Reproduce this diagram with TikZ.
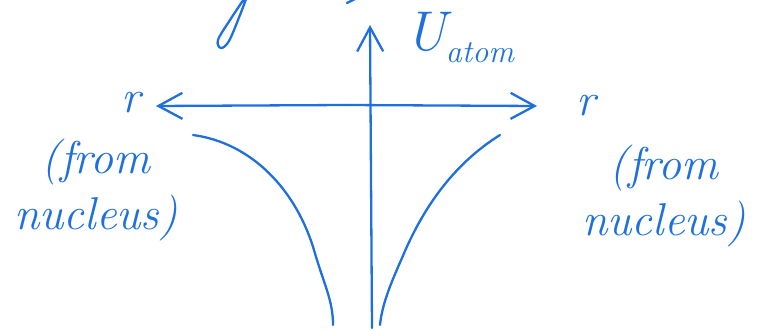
\documentclass[tikz,border=0pt]{standalone}
\usepackage{fontspec}
\setmainfont{Latin Modern Roman}
\usetikzlibrary{arrows.meta}
\definecolor{ink}{RGB}{30,112,222}
\tikzset{
  pen/.style={draw=ink, line width=2.3pt, line cap=round, line join=round},
  axisarrow/.style={pen, -{Straight Barb[length=24pt,width=26pt,line width=2.3pt]}},
  lbl/.style={text=ink, font=\fontsize{46}{56}\selectfont\itshape, align=center, inner sep=0pt},
  rlbl/.style={text=ink, font=\fontsize{46}{46}\selectfont\itshape, inner sep=0pt}
}
\begin{document}
\begin{tikzpicture}[x=1pt,y=-1pt]
\useasboundingbox (0,0) rectangle (762,331);
% axes
\coordinate (vb) at (372,328);
\coordinate (vt) at (370,25);
\coordinate (hc) at (346,105);
\coordinate (hl) at (156,106);
\coordinate (hr) at (537,106);
\draw[axisarrow] (vb) -- (vt);
\draw[axisarrow] (hc) -- (hl);
\draw[axisarrow] (hc) -- (hr);
% labels
\node[lbl, anchor=west] (U) at (405,38) {\fontsize{56}{56}\selectfont U\raisebox{-12pt}{\fontsize{32}{32}\selectfont atom}};
\node[rlbl] (rl) at (131,103) {r};
\node[rlbl] (rr) at (586,106) {r};
\node[lbl] (nl) at (96,190) {(from\\ nucleus)};
\node[lbl] (nr) at (664,196) {(from\\ nucleus)};
% potential curves
\draw[pen] (193,135) .. controls (252,143) and (296,190) .. (314,250) .. controls (324,285) and (333,300) .. (333,325);
\draw[pen] (500,135) .. controls (452,165) and (422,210) .. (402,258) .. controls (390,285) and (382,305) .. (380,325);
% cropped handwriting at top edge
\draw[pen] plot[smooth, tension=0.6] coordinates {(244,-1) (230,20) (218,40) (221,48) (229,41) (240,15) (246,-1)};
\draw[pen] (347,3) -- (355,-1);
\end{tikzpicture}
\end{document}
